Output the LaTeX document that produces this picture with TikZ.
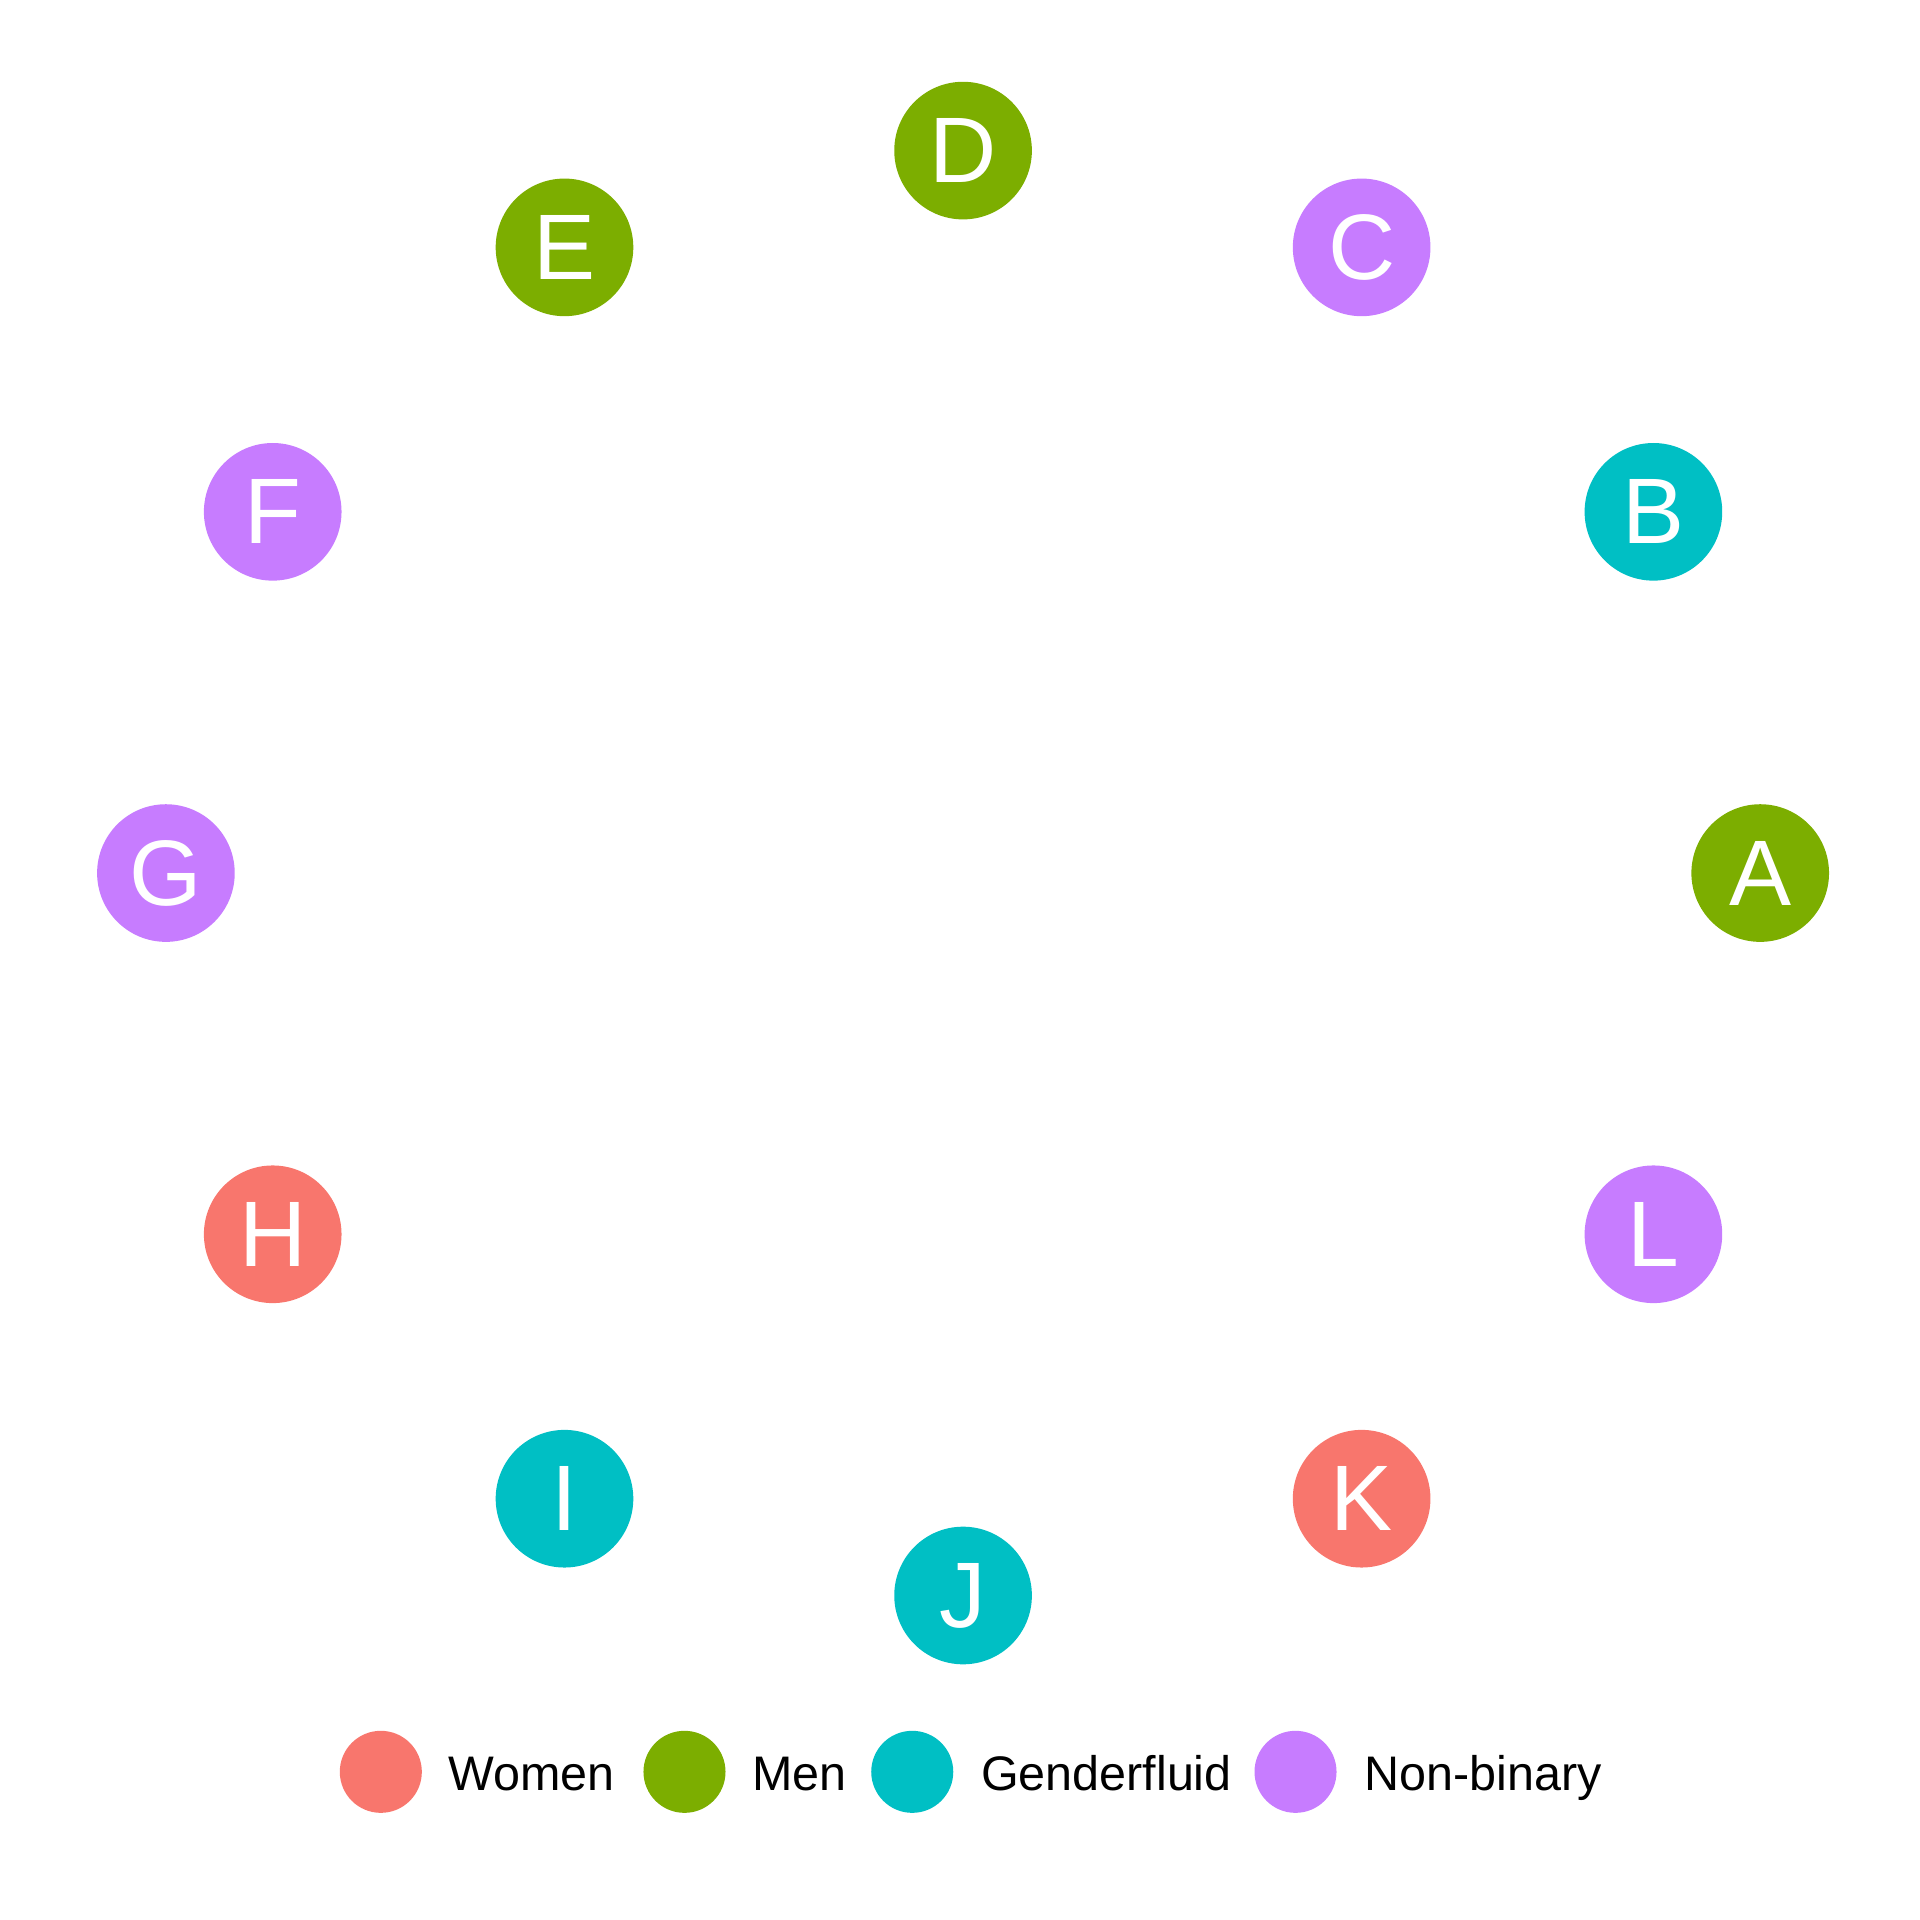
\documentclass[tikz,border=0pt]{standalone}
\usepackage{fontspec}
\setmainfont{Liberation Sans}
\definecolor{cwomen}{HTML}{F8766D}
\definecolor{cmen}{HTML}{7CAE00}
\definecolor{cgf}{HTML}{00BFC4}
\definecolor{cnb}{HTML}{C77CFF}
\tikzset{
  person/.style={circle, fill=#1, minimum size=112.4pt, inner sep=0pt, text=white,
    font=\fontsize{76}{90}\selectfont},
  legdot/.style={circle, fill=#1, minimum size=67pt, inner sep=0pt},
  legtext/.style={anchor=base west, inner sep=0pt, font=\fontsize{39.6}{48}\selectfont}
}
\begin{document}
\begin{tikzpicture}[x=1pt,y=1pt]
\useasboundingbox (0,0) rectangle (1568,1568);
\foreach \l/\a/\c in {A/0/cmen, B/30/cgf, C/60/cnb, D/90/cmen, E/120/cmen, F/150/cnb,
  G/180/cnb, H/210/cwomen, I/240/cgf, J/270/cgf, K/300/cwomen, L/330/cnb}{
  \node[person=\c] (\l) at ({786.5+651*cos(\a)},{855+590*sin(\a)}) {\l};
}
\node[legdot=cwomen] (lw) at (311,121) {};
\node[legtext] (tw) at (366,106) {Women};
\node[legdot=cmen] (lm) at (559,121) {};
\node[legtext] (tm) at (614,106) {Men};
\node[legdot=cgf] (lg) at (745,121) {};
\node[legtext] (tg) at (801,106) {Genderfluid};
\node[legdot=cnb] (ln) at (1058,121) {};
\node[legtext] (tn) at (1114,106) {Non-binary};
\end{tikzpicture}
\end{document}
